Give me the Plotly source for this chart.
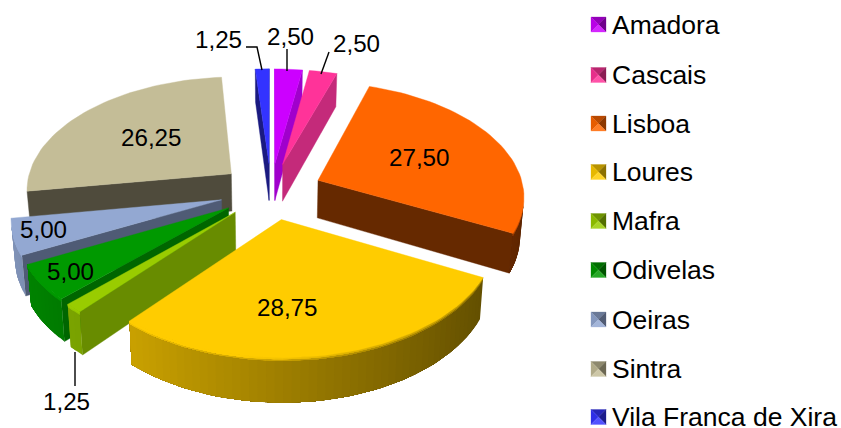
import math
import plotly.graph_objects as go

# Share of each municipality, in clockwise order from 12 o'clock
categories = ["Amadora", "Cascais", "Lisboa", "Loures", "Mafra", "Odivelas",
              "Oeiras", "Sintra", "Vila Franca de Xira"]
values = [2.50, 2.50, 27.50, 28.75, 1.25, 5.00, 5.00, 26.25, 1.25]

top_colors = ["#cc00ff", "#ff3399", "#ff6600", "#ffcc00", "#99cc00",
              "#009900", "#93a8d2", "#c4bd97", "#3333ff"]
cut_colors = ["#a000cc", "#c42a7a", "#662900", "#665200", "#688c00",
              "#006600", "#4f5b75", "#4f4b3c", "#1a1a80"]

# Where the value labels sit and which ones get a leader line
label_xy = [(290, 36), (356, 43), (419, 157), (287, 307), (66, 401),
            (70, 271), (43, 229), (151, 137), (218, 39)]
leaders = [[(287, 49), (287, 71)], [(329, 52), (321, 74)], None, None,
           [(75, 352), (75, 386)], None, None, None,
           [(246, 47), (257, 47), (262, 70)]]

# Projection of the tilted, exploded pie onto the page
CX, CY = 271, 191
SCALE_X, SCALE_Y, DEPTH = 206, 113, 38
PERSPECTIVE = 0.125
CONVERGE = 0.015
PULL = 0.25
STEP = 2.0


def project(theta, r, level, mid):
    t, m = math.radians(theta), math.radians(mid)
    x = PULL * math.sin(m) + r * math.sin(t)
    y = -PULL * math.cos(m) - r * math.cos(t)
    w = 1 / (1 - PERSPECTIVE * y)
    return (CX + SCALE_X * x * w * (1 - CONVERGE * level),
            CY + SCALE_Y * y * w + DEPTH * level * w)


def shade(color, f):
    rgb = [int(color[i:i + 2], 16) for i in (1, 3, 5)]
    if f <= 1:
        out = [c * f for c in rgb]
    else:
        out = [c + (255 - c) * (f - 1) for c in rgb]
    return "rgb({:.0f},{:.0f},{:.0f})".format(*out)


def shade_factor(theta):
    return 0.62 - 0.26 * math.sin(math.radians(theta))


def facing(pts):
    s = 0
    for (a, b), (c, d) in zip(pts, pts[1:] + pts[:1]):
        s += a * d - c * b
    return s < 0


def polygon(fig, pts, color, name, width=0.0):
    xs = [p[0] for p in pts] + [pts[0][0]]
    ys = [p[1] for p in pts] + [pts[0][1]]
    fig.add_trace(go.Scatter(x=xs, y=ys, mode="lines", fill="toself", fillcolor=color,
                             line=dict(color=color, width=width), name=name,
                             hoverinfo="skip", showlegend=False))


def band(fig, angles, mid, lev0, lev1, color, name):
    pts = [project(t, 1, lev0, mid) for t in angles]
    pts += [project(t, 1, lev1, mid) for t in reversed(angles)]
    polygon(fig, pts, color, name)


def draw_slice(fig, name, start, end, top, cut):
    mid = (start + end) / 2
    # radial cut faces
    a0, a1 = project(start, 0, 0, mid), project(start, 0, 1, mid)
    for pts in ([a0, project(start, 1, 0, mid), project(start, 1, 1, mid), a1],
                [project(end, 1, 0, mid), a0, a1, project(end, 1, 1, mid)]):
        if facing(pts):
            polygon(fig, pts, cut, name, 0.4)
    # curved rim, lit from the left, with a soft bevel along the upper edge;
    # each strip runs on to the end of the rim so the next one overlaps it
    n = max(2, int((end - start) / STEP))
    angles = [start + (end - start) * i / n for i in range(n + 1)]
    visible = [(t0, t1) for t0, t1 in zip(angles, angles[1:]) if facing(
        [project(t0, 1, 0, mid), project(t1, 1, 0, mid),
         project(t1, 1, 1, mid), project(t0, 1, 1, mid)])]
    if visible:
        first, last = visible[0][0], visible[-1][1]
        arc = [t for t in angles if first <= t <= last]
        for lev0, lev1, lift in ((0.0, 1.0, 0.0), (0.0, 0.07, 0.17), (0.0, 0.035, 0.33)):
            for i in range(len(arc) - 1):
                f = shade_factor((arc[i] + arc[i + 1]) / 2)
                band(fig, arc[i:], mid, lev0, lev1, shade(top, min(1.0, f + lift)), name)
    # flat top face
    polygon(fig, [a0] + [project(t, 1, 0, mid) for t in angles], top, name, 0.4)


fig = go.Figure()

bounds = []
acc = 0
for v in values:
    bounds.append((acc * 3.6, (acc + v) * 3.6))
    acc += v


def apex_depth(i):
    s, e = bounds[i]
    return project((s + e) / 2, 0, 0, (s + e) / 2)[1]


# Paint the slices from the back of the pie to the front
for i in sorted(range(len(values)), key=apex_depth):
    draw_slice(fig, categories[i], *bounds[i], top_colors[i], cut_colors[i])

# Leader lines for the narrow slices
for line in leaders:
    if line:
        fig.add_trace(go.Scatter(x=[p[0] for p in line], y=[p[1] for p in line], mode="lines",
                                 line=dict(color="black", width=1.4), hoverinfo="skip",
                                 showlegend=False))

annotations = []
for v, (x, y) in zip(values, label_xy):
    annotations.append(dict(x=x, y=y, xref="x", yref="y", showarrow=False,
                            text=f"{v:.2f}".replace(".", ","),
                            font=dict(family="Liberation Sans", size=24.2, color="black")))

# Key on the right: bevelled swatches with their names
KEY_X, KEY_SIZE = 598.5, 7.5
key_y = [24.5, 75, 123.5, 172, 221, 270, 319.5, 369, 417]
for name, color, y in zip(categories, top_colors, key_y):
    nw = (KEY_X - KEY_SIZE, y - KEY_SIZE)
    ne = (KEY_X + KEY_SIZE, y - KEY_SIZE)
    se = (KEY_X + KEY_SIZE, y + KEY_SIZE)
    sw = (KEY_X - KEY_SIZE, y + KEY_SIZE)
    c = (KEY_X, y)
    polygon(fig, [nw, ne, c], shade(color, 0.72), name, 0.3)
    polygon(fig, [nw, sw, c], shade(color, 0.9), name, 0.3)
    polygon(fig, [ne, se, c], shade(color, 0.55), name, 0.3)
    polygon(fig, [sw, se, c], shade(color, 1.15), name, 0.3)
    annotations.append(dict(x=610, y=y, xref="x", yref="y", xanchor="left", showarrow=False,
                            text=name, font=dict(family="Liberation Sans", size=26.5, color="black")))

fig.update_layout(
    width=841, height=428, margin=dict(l=0, r=0, t=0, b=0),
    paper_bgcolor="white", plot_bgcolor="white", showlegend=False,
    xaxis=dict(range=[0, 841], visible=False, fixedrange=True),
    yaxis=dict(range=[428, 0], visible=False, fixedrange=True),
    annotations=annotations,
)

fig.write_html("out.html")
